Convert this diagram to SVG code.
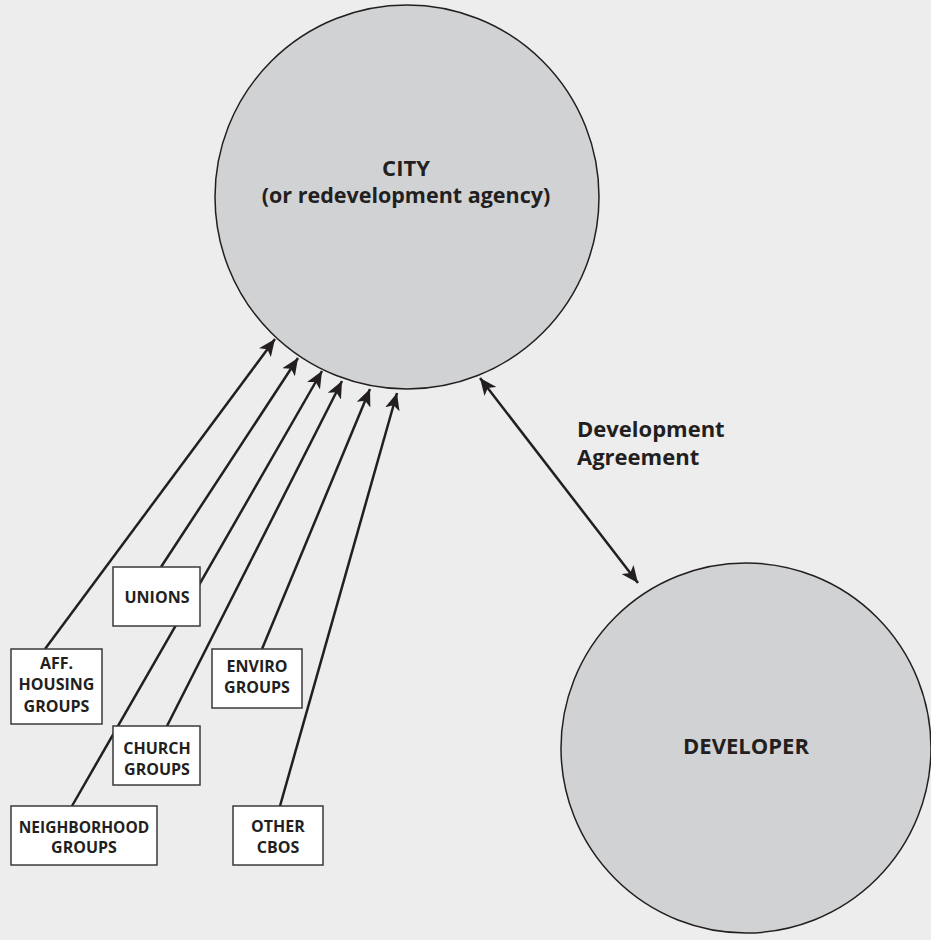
<svg xmlns="http://www.w3.org/2000/svg" width="931" height="940" viewBox="0 0 931 940">
<defs>
<style>
.bg{fill:#ededed}
.circle{fill:#d1d2d4;stroke:#231f20;stroke-width:1.5}
.box{fill:#ffffff;stroke:#3a3a3a;stroke-width:1.5}
.lbl{font-family:"Open Sans","Noto Sans","Liberation Sans",sans-serif;font-weight:bold;fill:#231f20}
.big{font-size:22px}
.small{font-size:16px}
.mid{text-anchor:middle}
.conn{stroke:#231f20;stroke-width:2.5;fill:none}
</style>
<marker id="ah" viewBox="0 0 16 14" refX="16" refY="7" markerWidth="17" markerHeight="15" markerUnits="userSpaceOnUse" orient="auto-start-reverse">
<path d="M0,0 L16,7 L0,14 L4,7 Z" fill="#231f20"/>
</marker>
</defs>
<rect class="bg" x="0" y="0" width="931" height="940"/>

<g id="connectors">
<line class="conn" x1="45" y1="649" x2="275" y2="339" marker-end="url(#ah)"/>
<line class="conn" x1="161" y1="567" x2="298" y2="358" marker-end="url(#ah)"/>
<line class="conn" x1="72" y1="806" x2="322" y2="371" marker-end="url(#ah)"/>
<line class="conn" x1="167" y1="726" x2="342" y2="381" marker-end="url(#ah)"/>
<line class="conn" x1="262" y1="649" x2="370" y2="389" marker-end="url(#ah)"/>
<line class="conn" x1="280" y1="806" x2="397" y2="393" marker-end="url(#ah)"/>
<line class="conn" x1="480" y1="378" x2="638" y2="583" marker-start="url(#ah)" marker-end="url(#ah)"/>
</g>

<g id="city">
<circle class="circle" cx="407" cy="197" r="192"/>
<text class="lbl big mid" x="406" y="176">CITY</text>
<text class="lbl big mid" x="406" y="203" style="font-size:21.5px">(or redevelopment agency)</text>
</g>

<g id="developer">
<circle class="circle" cx="746" cy="748" r="185"/>
<text class="lbl big mid" x="746" y="754">DEVELOPER</text>
</g>

<g id="agreement-label">
<text class="lbl big" x="577" y="437">Development</text>
<text class="lbl big" x="577" y="465">Agreement</text>
</g>

<g id="unions">
<rect class="box" x="113" y="567" width="87" height="59"/>
<text class="lbl small mid" x="157" y="603">UNIONS</text>
</g>

<g id="aff-housing">
<rect class="box" x="11" y="649" width="91" height="75"/>
<text class="lbl small mid" x="56.5" y="669">AFF.</text>
<text class="lbl small mid" x="56.5" y="690">HOUSING</text>
<text class="lbl small mid" x="56.5" y="712">GROUPS</text>
</g>

<g id="enviro">
<rect class="box" x="212" y="649" width="90" height="59"/>
<text class="lbl small mid" x="257" y="672">ENVIRO</text>
<text class="lbl small mid" x="257" y="693">GROUPS</text>
</g>

<g id="church">
<rect class="box" x="113" y="726" width="87" height="59"/>
<text class="lbl small mid" x="157" y="754">CHURCH</text>
<text class="lbl small mid" x="157" y="775">GROUPS</text>
</g>

<g id="neighborhood">
<rect class="box" x="11" y="806" width="146" height="59"/>
<text class="lbl small mid" x="84" y="833" style="font-size:15.5px">NEIGHBORHOOD</text>
<text class="lbl small mid" x="84" y="853">GROUPS</text>
</g>

<g id="other-cbos">
<rect class="box" x="233" y="806" width="90" height="59"/>
<text class="lbl small mid" x="278" y="832">OTHER</text>
<text class="lbl small mid" x="278" y="853">CBOS</text>
</g>
</svg>
